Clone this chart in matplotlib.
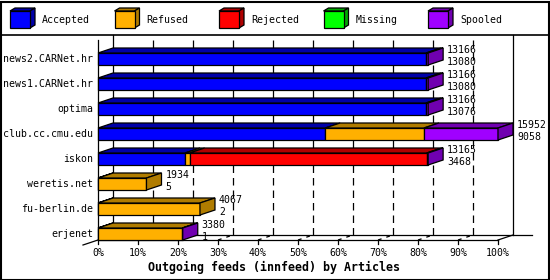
import matplotlib
matplotlib.use("Agg")
import matplotlib.pyplot as plt
from matplotlib.patches import Polygon, Rectangle
from matplotlib.lines import Line2D

# ---------------- data ----------------
hosts = ["news2.CARNet.hr", "news1.CARNet.hr", "optima", "club.cc.cmu.edu",
         "iskon", "weretis.net", "fu-berlin.de", "erjenet"]
offered = [13166, 13166, 13166, 15952, 13165, 1934, 4067, 3380]
accepted = [13080, 13080, 13076, 9058, 3468, 5, 2, 1]
refused = [0, 0, 0, 3940, 187, 1929, 4065, 3359]
rejected = [0, 0, 0, 0, 9451, 0, 0, 0]
missing = [0, 0, 0, 0, 0, 0, 0, 0]
spooled = [86, 86, 90, 2954, 59, 0, 0, 20]
series_names = ["Accepted", "Refused", "Rejected", "Missing", "Spooled"]
x_ticks = [0, 10, 20, 30, 40, 50, 60, 70, 80, 90, 100]
title = "Outgoing feeds (innfeed) by Articles"

# ---------------- style ----------------
front_cols = ["#0000ff", "#ffb000", "#ff0000", "#00ff00", "#a000ff"]
dark_cols = ["#0000a8", "#b07c00", "#b00000", "#00a800", "#7000b0"]
FONT = "DejaVu Sans Mono"
FS = 7.1
LW = 0.9

W, H = 550, 280
fig = plt.figure(figsize=(W / 100, H / 100), dpi=100)
fig.patch.set_facecolor("white")

ax = fig.add_axes([98 / W, 40 / H, 400 / W, 200 / H])
ax.set_xlim(0, 100)
ax.set_ylim(0, len(hosts))
ax.axis("off")

px = 100 / 400          # data units per pixel (x)
py = len(hosts) / 200   # data units per pixel (y)
DX, DY = 15 * px, 5 * py
BAR_H = 12 * py

series = [accepted, refused, rejected, missing, spooled]
totals = [sum(s[i] for s in series) for i in range(len(hosts))]
maxtot = max(totals)
n = len(hosts)

# back wall, gridlines, floor
for k in x_ticks[1:-1]:
    ax.plot([k + DX, k + DX], [DY, n + DY], color="black", lw=LW,
            ls=(0, (6, 4)), clip_on=False, zorder=1)
ax.plot([DX, DX], [DY, n + DY], color="black", lw=LW, clip_on=False, zorder=1)
ax.plot([100 + DX, 100 + DX], [DY, n + DY], color="black", lw=LW, clip_on=False, zorder=1)
ax.plot([DX, 100 + DX + 19 * px], [DY, DY], color="black", lw=LW, clip_on=False, zorder=1)
ax.plot([0, 100], [0, 0], color="black", lw=LW, clip_on=False, zorder=1)
ax.plot([0, 0], [0, n], color="black", lw=LW, clip_on=False, zorder=1)
ax.plot([-DX, 0], [-DY, 0], color="black", lw=LW, clip_on=False, zorder=1)
ax.plot([100, 100 + DX], [0, DY], color="black", lw=LW, clip_on=False, zorder=1)
for k in x_ticks:
    ax.plot([k, k], [0, -4 * py], color="black", lw=LW, clip_on=False, zorder=1)
    if 0 < k < 100:
        ax.plot([k, k + DX], [0, DY], color="black", lw=LW,
                ls=(0, (3, 4)), clip_on=False, zorder=1)
    ax.text(k, -13 * py, f"{k}%", ha="center", va="center",
            family=FONT, fontsize=FS)

# bars
for j, host in enumerate(hosts):
    i = n - 1 - j
    y0, y1 = i, i + BAR_H
    left = 0.0
    last = None
    for s_idx, s in enumerate(series):
        v = s[j]
        if v <= 0:
            continue
        w = v / maxtot * 100
        ax.barh(y0, w, left=left, height=BAR_H, align="edge",
                color=front_cols[s_idx], edgecolor="black", lw=LW,
                clip_on=False, zorder=3)
        ax.add_patch(Polygon([(left, y1), (left + w, y1), (left + w + DX, y1 + DY),
                              (left + DX, y1 + DY)], closed=True,
                             facecolor=dark_cols[s_idx], edgecolor="black",
                             lw=LW, clip_on=False, zorder=3))
        left += w
        last = s_idx
    ax.add_patch(Polygon([(left, y0), (left + DX, y0 + DY), (left + DX, y1 + DY),
                          (left, y1)], closed=True, facecolor=dark_cols[last],
                         edgecolor="black", lw=LW, clip_on=False, zorder=3))
    # labels
    ax.text(-5 * px, y0 + BAR_H / 2, host, ha="right", va="center",
            family=FONT, fontsize=FS)
    ax.text(left + 19 * px, y0 + BAR_H / 2 + 9 * py, str(offered[j]),
            ha="left", va="center", family=FONT, fontsize=FS, zorder=4)
    ax.text(left + 19 * px, y0 + BAR_H / 2 - 3 * py, str(accepted[j]),
            ha="left", va="center", family=FONT, fontsize=FS, zorder=4)

fig.text(274 / W, 1 - 267 / H, title, ha="center", va="center",
         family=FONT, fontsize=8.4, weight="bold")

# legend
lg = fig.add_axes([0, 1 - 35 / H, 1, 35 / H])
lg.set_xlim(0, W)
lg.set_ylim(35, 0)
lg.axis("off")
for k, name in enumerate(series_names):
    x0 = 10 + 104.5 * k
    fx0, fx1, fy0, fy1 = x0, x0 + 20, 11, 28
    d, e = 5, 3
    lg.add_patch(Polygon([(fx0, fy0), (fx1, fy0), (fx1 + d, fy0 - e), (fx0 + d, fy0 - e)],
                         closed=True, facecolor=dark_cols[k], edgecolor="black", lw=LW))
    lg.add_patch(Polygon([(fx1, fy0), (fx1 + d, fy0 - e), (fx1 + d, fy1 - e), (fx1, fy1)],
                         closed=True, facecolor=dark_cols[k], edgecolor="black", lw=LW))
    lg.add_patch(Rectangle((fx0, fy0), 20, 17, facecolor=front_cols[k],
                           edgecolor="black", lw=LW))
    lg.text(x0 + 32, 20, name, ha="left", va="center", family=FONT, fontsize=FS)

fig.add_artist(Line2D([0, 1], [1 - 35 / H, 1 - 35 / H], transform=fig.transFigure,
                      color="black", lw=1.2))
fig.add_artist(Rectangle((0.5 / W, 0.5 / H), 1 - 2 / W, 1 - 2 / H,
                         transform=fig.transFigure, fill=False,
                         edgecolor="black", lw=1.5))

fig.savefig("out.png", dpi=100, facecolor="white")
